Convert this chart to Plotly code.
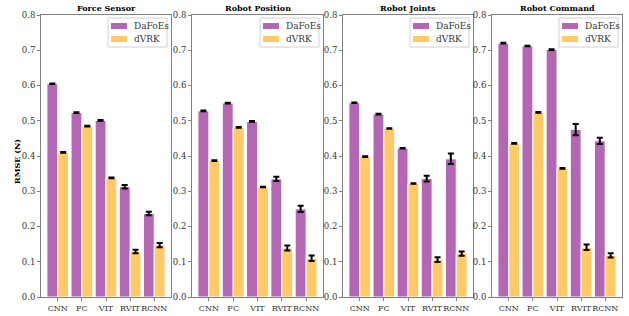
import plotly.graph_objects as go
from plotly.subplots import make_subplots

categories = ["CNN", "FC", "VIT", "RVIT", "RCNN"]
panel_titles = ["Force Sensor", "Robot Position", "Robot Joints", "Robot Command"]
series_names = ["DaFoEs", "dVRK"]

dafoes_force = [0.605, 0.523, 0.501, 0.313, 0.237]
dafoes_force_err = [0.001, 0.001, 0.001, 0.005, 0.005]
dvrk_force = [0.410, 0.485, 0.338, 0.129, 0.147]
dvrk_force_err = [0.001, 0.001, 0.001, 0.005, 0.006]

dafoes_pos = [0.528, 0.550, 0.498, 0.335, 0.250]
dafoes_pos_err = [0.001, 0.001, 0.001, 0.006, 0.009]
dvrk_pos = [0.387, 0.481, 0.312, 0.139, 0.110]
dvrk_pos_err = [0.001, 0.001, 0.001, 0.007, 0.008]

dafoes_joints = [0.551, 0.519, 0.422, 0.336, 0.392]
dafoes_joints_err = [0.001, 0.001, 0.001, 0.008, 0.015]
dvrk_joints = [0.398, 0.478, 0.322, 0.106, 0.123]
dvrk_joints_err = [0.001, 0.001, 0.001, 0.007, 0.006]

dafoes_cmd = [0.720, 0.712, 0.702, 0.475, 0.443]
dafoes_cmd_err = [0.001, 0.001, 0.001, 0.016, 0.009]
dvrk_cmd = [0.436, 0.524, 0.365, 0.141, 0.118]
dvrk_cmd_err = [0.001, 0.001, 0.001, 0.008, 0.006]

y_ticks = [0.0, 0.1, 0.2, 0.3, 0.4, 0.5, 0.6, 0.7, 0.8]

panels = [
    (dafoes_force, dafoes_force_err, dvrk_force, dvrk_force_err),
    (dafoes_pos, dafoes_pos_err, dvrk_pos, dvrk_pos_err),
    (dafoes_joints, dafoes_joints_err, dvrk_joints, dvrk_joints_err),
    (dafoes_cmd, dafoes_cmd_err, dvrk_cmd, dvrk_cmd_err),
]

PURPLE = "#B366B3"
ORANGE = "#FFC966"
COLORS = [PURPLE, ORANGE]
FONT = "DejaVu Serif"
W, H = 629, 316

fig = make_subplots(rows=1, cols=4)

x_px = [(41, 171), (192, 323), (343, 473), (492, 622)]
y_top, y_bot = 15, 297


def px(x):
    return x / W


def py(y):
    return (H - y) / H


for i, (d, de, v, ve) in enumerate(panels):
    col = i + 1
    fig.add_trace(go.Bar(
        x=categories, y=d, name=series_names[0],
        marker=dict(color=PURPLE, line=dict(color="white", width=1)),
        error_y=dict(type="data", array=de, color="black", thickness=2, width=3),
        showlegend=False,
    ), row=1, col=col)
    fig.add_trace(go.Bar(
        x=categories, y=v, name=series_names[1],
        marker=dict(color=ORANGE, line=dict(color="white", width=1)),
        error_y=dict(type="data", array=ve, color="black", thickness=2, width=3),
        showlegend=False,
    ), row=1, col=col)

    x0, x1 = x_px[i]
    xa = "xaxis" if i == 0 else f"xaxis{i+1}"
    ya = "yaxis" if i == 0 else f"yaxis{i+1}"
    fig.layout[xa].update(
        domain=[px(x0), px(x1)], range=[-0.695, 4.695], automargin=False,
        showline=True, mirror=True, linecolor="#808080", linewidth=1,
        ticks="outside", ticklen=3, tickcolor="#808080", tickangle=0,
        tickfont=dict(family=FONT, size=8, color="#333333"),
        showgrid=False, zeroline=False,
    )
    fig.layout[ya].update(
        domain=[py(y_bot), py(y_top)], range=[0, 0.8], automargin=False,
        tickvals=y_ticks, ticktext=[f"{t:.1f}" for t in y_ticks],
        showline=True, mirror=True, linecolor="#808080", linewidth=1,
        ticks="outside", ticklen=3, tickcolor="#808080",
        tickfont=dict(family=FONT, size=8.5, color="#333333"),
        showgrid=False, zeroline=False,
    )

    # legend box
    fig.add_shape(type="rect", xref="paper", yref="paper",
                  x0=px(x1 - 63), x1=px(x1 - 4), y0=py(47), y1=py(18),
                  line=dict(color="#D0D0D0", width=1),
                  fillcolor="rgba(255,255,255,0.85)", layer="above")
    for k, name in enumerate(series_names):
        yc = 26 + k * 13
        fig.add_shape(type="rect", xref="paper", yref="paper",
                      x0=px(x1 - 60), x1=px(x1 - 44), y0=py(yc + 3), y1=py(yc - 3),
                      line=dict(width=0), fillcolor=COLORS[k], layer="above")
        fig.add_annotation(
            text=name, xref="paper", yref="paper",
            x=px(x1 - 39), y=py(yc), xanchor="left", yanchor="middle",
            showarrow=False, font=dict(family=FONT, size=9, color="#333333"),
        )

    fig.add_annotation(
        text=f"<b>{panel_titles[i]}</b>", xref="paper", yref="paper",
        x=px((x0 + x1) / 2), y=py(7.5), xanchor="center", yanchor="middle",
        showarrow=False, font=dict(family=FONT, size=8, color="black"),
    )

fig.add_annotation(
    text="<b>RMSE (N)</b>", xref="paper", yref="paper",
    x=px(17), y=py(162), xanchor="center", yanchor="middle",
    textangle=-90, showarrow=False, font=dict(family=FONT, size=8, color="black"),
)

fig.update_layout(
    width=W, height=H, margin=dict(l=0, r=0, t=0, b=0, autoexpand=False),
    barmode="group", bargap=0.1, bargroupgap=0.0,
    plot_bgcolor="white", paper_bgcolor="white",
    showlegend=False,
)

fig.write_html(
    "out.html",
    config={"responsive": False, "displayModeBar": False},
    post_script="document.body.style.margin='0';document.body.style.overflow='hidden';",
)
